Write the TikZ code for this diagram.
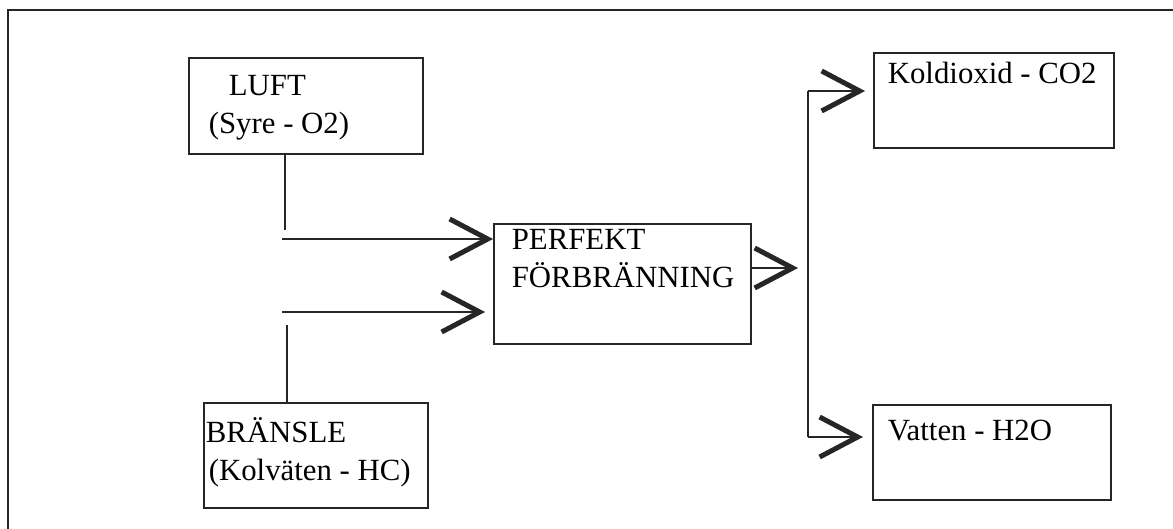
\documentclass[tikz,border=0pt]{standalone}
\usepackage{fontspec}
\setmainfont{Liberation Serif}
\usetikzlibrary{arrows.meta}
\begin{document}
\begin{tikzpicture}[x=1pt,y=-1pt,
  box/.style={draw=black!85, line width=1.7pt, inner sep=0pt, anchor=north west,
    font=\fontsize{30.8}{37.5}\selectfont},
  conn/.style={draw=black!85, line width=1.6pt},
  arr/.style={-{Straight Barb[length=38pt,width=40pt,line width=5pt,sharp]}},
  frame/.style={draw=black!85, line width=2pt}]
\useasboundingbox (0,0) rectangle (1173,529);
\draw[frame] (8,529) -- (8,10) -- (1173,10);

\node[box] (luft) at (188,57)
  {\parbox[c][96pt][t]{234pt}{\vspace*{10pt}\hspace*{40pt}\rule{0pt}{28pt}LUFT\\\hspace*{20pt}(Syre - O2)}};
\node[box] (perfekt) at (493,223)
  {\parbox[c][120pt][t]{257pt}{\vspace*{2pt}\hspace*{18pt}\rule{0pt}{24pt}PERFEKT\\\hspace*{18pt}FÖRBRÄNNING}};
\node[box] (bransle) at (203,402)
  {\parbox[c][105pt][t]{224pt}{\vspace*{12pt}\hspace*{2pt}\rule{0pt}{28pt}BRÄNSLE\\\hspace*{5pt}(Kolväten - HC)}};
\node[box] (kold) at (873,52)
  {\parbox[c][95pt][t]{240pt}{\vspace*{3pt}\hspace*{14pt}\rule{0pt}{28pt}Koldioxid - CO2}};
\node[box] (vatten) at (872,404)
  {\parbox[c][95pt][t]{238pt}{\vspace*{8pt}\hspace*{15pt}\rule{0pt}{28pt}Vatten - H2O}};

\coordinate (a1) at (285,230);
\draw[conn] (luft.south -| a1) -- (a1);
\coordinate (a2) at (282,239);
\draw[conn,arr] (a2) -- (a2 -| perfekt.west);
\coordinate (b1) at (287,325);
\draw[conn] (b1) -- (b1 |- bransle.north);
\coordinate (b2) at (282,312);
\draw[conn,arr,shorten >=8pt] (b2) -- (b2 -| perfekt.west);
\coordinate (c1) at (798,268);
\draw[conn,arr] (perfekt.east |- c1) -- (c1);
\coordinate (t) at (808,91);
\coordinate (b) at (808,437);
\draw[conn] (t) -- (b);
\draw[conn,arr,shorten >=8pt] (t) -- (t -| kold.west);
\draw[conn,arr,shorten >=9pt] (b) -- (b -| vatten.west);
\end{tikzpicture}
\end{document}
